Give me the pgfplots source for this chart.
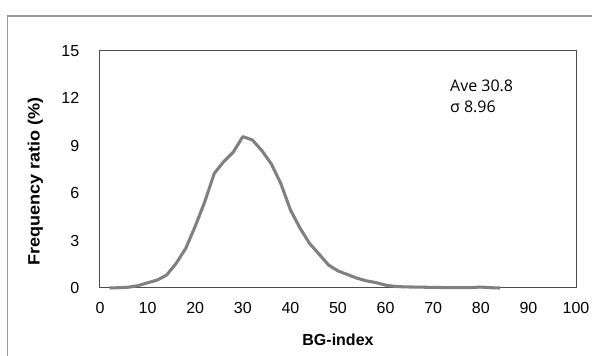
\documentclass[border=0pt]{standalone}
\usepackage{pgfplots}
\pgfplotsset{compat=1.18}
\usepackage{fontspec}
\setmainfont{Liberation Sans}
\newfontfamily\annfont{Open Sans}
\begin{document}
\begin{tikzpicture}
\useasboundingbox (-75pt,-51pt) rectangle (369pt,216pt);
\begin{axis}[
  at={(0,0)}, anchor=origin,
  scale only axis, width=357pt, height=177.75pt,
  xmin=0, xmax=100, ymin=0, ymax=15,
  xtick={0,10,...,100}, ytick={0,3,...,15},
  tick style={draw=none},
  axis line style={draw=black!70, line width=0.75pt},
  ticklabel style={font=\fontsize{12}{14}\selectfont},
  /pgf/number format/assume math mode=true,
  xticklabel style={yshift=-7pt},
  yticklabel style={xshift=-12pt},
  clip=false,
]
\addplot[color=black!50, line width=2.3pt, line join=round] coordinates {
(2,0) (4,0.02) (6,0.05) (8,0.15) (10,0.33) (12,0.5) (14,0.82) (16,1.56) (18,2.5)
(20,3.9) (22,5.45) (24,7.25) (26,8.0) (28,8.6) (30,9.58) (32,9.37) (34,8.7)
(36,7.85) (38,6.6) (40,4.95) (42,3.8) (44,2.83) (46,2.15) (48,1.46) (50,1.08)
(52,0.85) (54,0.62) (56,0.45) (58,0.34) (60,0.18) (62,0.1) (64,0.07) (66,0.06)
(68,0.05) (70,0.04) (72,0.03) (74,0.02) (76,0.02) (78,0.03) (80,0.06) (82,0.02) (84,0)
};
\node[anchor=north west, inner sep=0pt, align=left, font=\annfont\fontsize{12}{15.75}\selectfont]
  at (axis cs:73.5,13.2) {Ave 30.8\\σ 8.96};
\end{axis}
\node[rotate=90, xscale=1.1, font=\bfseries\fontsize{12.3}{14}\selectfont] at (-48.5pt,80pt) {Frequency ratio (\%)};
\node[font=\bfseries\fontsize{12}{14}\selectfont] at (178.5pt,-39pt) {BG-index};
\draw[black!40, line width=1pt] (-69.4pt,-60pt) -- (-69.4pt,204pt) -- (380pt,204pt);
\end{tikzpicture}
\end{document}
